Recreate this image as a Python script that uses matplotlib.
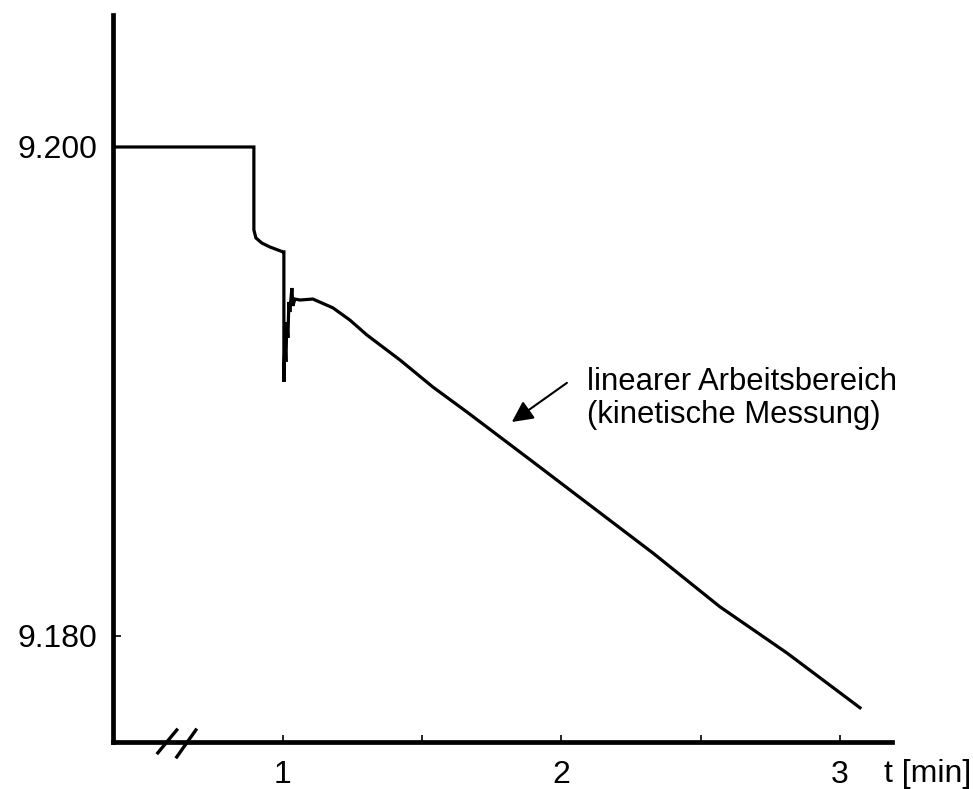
import matplotlib
matplotlib.use("Agg")
import matplotlib.pyplot as plt

plt.rcParams['font.family'] = ['Liberation Sans', 'DejaVu Sans']

# time [min] and signal
t = [0.3896, 0.8959, 0.8959, 0.9031, 0.9246, 0.9533, 1.0, 1.0036, 1.0036,
     1.0072, 1.0108, 1.0144, 1.0180, 1.0215, 1.0251, 1.0323, 1.0359, 1.0431,
     1.0610, 1.1077, 1.1795, 1.2406, 1.3016, 1.4201, 1.5386, 1.6607, 1.7792,
     1.8977, 2.0916, 2.3285, 2.5691, 2.8097, 3.0718]
signal = [9.2000, 9.2000, 9.19661, 9.19628, 9.19607, 9.19591, 9.19571, 9.19571,
          9.19039, 9.19211, 9.19121, 9.19284, 9.19219, 9.19366, 9.19325, 9.19423,
          9.19350, 9.19378, 9.19374, 9.19378, 9.19342, 9.19292, 9.19231, 9.19129,
          9.19018, 9.18916, 9.18814, 9.18712, 9.18544, 9.18339, 9.18119, 9.17930,
          9.17706]

xticks = [1, 1.5, 2, 2.5, 3]
xticklabels = ['1', '', '2', '', '3']
yticks = [9.180, 9.200]
yticklabels = ['9.180', '9.200']

fig = plt.figure(figsize=(9.73, 7.89), dpi=100)
ax = fig.add_axes([0.1161, 0.0596, 0.8007, 0.9214])

ax.plot(t, signal, color='black', lw=2.3, solid_joinstyle='miter')

ax.set_xlim(0.39, 3.187)
ax.set_ylim(9.17566, 9.2054)

for side in ['top', 'right']:
    ax.spines[side].set_visible(False)
for side in ['left', 'bottom']:
    ax.spines[side].set_linewidth(3.4)

ax.set_xticks(xticks)
ax.set_xticklabels(xticklabels)
ax.set_yticks(yticks)
ax.set_yticklabels(yticklabels)
ax.tick_params(axis='x', direction='in', length=5, width=1.2, labelsize=23, pad=13)
ax.tick_params(axis='y', direction='in', length=6, width=1.2, labelsize=23, pad=11)

# axis break marks
ax.plot([0.551, 0.619], [-0.015, 0.0165], color='black', lw=2.4,
        transform=ax.get_xaxis_transform(), clip_on=False)
ax.plot([0.619, 0.6876], [-0.0206, 0.0165], color='black', lw=2.4,
        transform=ax.get_xaxis_transform(), clip_on=False)

fig.text(0.9085, 0.0185, 't [min]', fontsize=23, ha='left', va='center')

ax.text(2.0916, 9.18972, 'linearer Arbeitsbereich\n(kinetische Messung)',
        fontsize=22.3, ha='left', va='center', linespacing=1.15)
ax.annotate('', xy=(1.822, 9.18875), xytext=(2.0197, 9.19035),
            arrowprops=dict(arrowstyle='-|>', color='black', lw=1.5,
                            mutation_scale=32, shrinkA=0, shrinkB=0))

fig.savefig('out.png', dpi=100)
